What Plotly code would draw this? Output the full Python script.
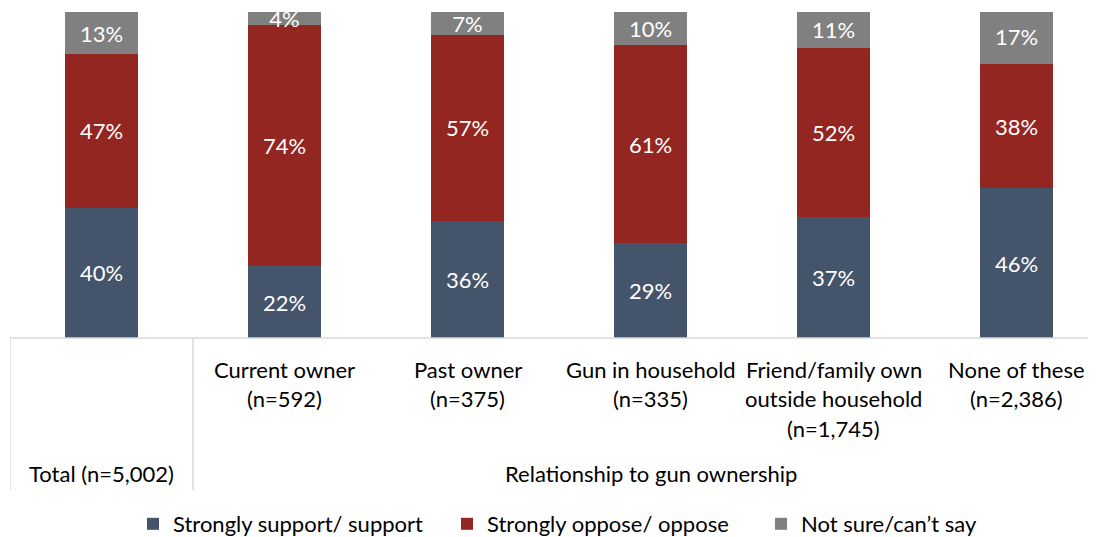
import plotly.graph_objects as go

categories = ["Total (n=5,002)", "Current owner<br>(n=592)", "Past owner<br>(n=375)",
              "Gun in household<br>(n=335)", "Friend/family own<br>outside household<br>(n=1,745)",
              "None of these<br>(n=2,386)"]
group_label = "Relationship to gun ownership"
support = [40, 22, 36, 29, 37, 46]
oppose = [47, 74, 57, 61, 52, 38]
not_sure = [13, 4, 7, 10, 11, 17]

series = [
    ("Strongly support/ support", support, "#44546A"),
    ("Strongly oppose/ oppose", oppose, "#942621"),
    ("Not sure/can’t say", not_sure, "#808080"),
]

FONT = "Lato"
FS = 22
OFF = 8  # page body margin
VW = 1096
W, H = VW - OFF, 560
top_px, bottom_px = 12, 338          # screen coords
ph = bottom_px - top_px

def py(pix):
    return (bottom_px - pix) / ph

xs = list(range(len(categories)))
fig = go.Figure()
for name, vals, col in series:
    fig.add_trace(go.Bar(
        x=xs, y=vals, name=name, marker=dict(color=col, line=dict(width=0)),
        width=0.395, text=[f"{v}%" for v in vals], textposition="inside",
        insidetextanchor="middle", constraintext="none",
        textfont=dict(color="white", size=FS, family=FONT),
        cliponaxis=True,
    ))

annotations = []
for i, lab in enumerate(categories):
    if i == 0:
        annotations.append(dict(x=i, y=py(473), xref="x", yref="paper", text=lab,
                                showarrow=False, yanchor="middle",
                                font=dict(size=FS, family=FONT, color="#000")))
        continue
    for j, line in enumerate(lab.split("<br>")):
        annotations.append(dict(x=i, y=py(369 + 29.5 * j), xref="x", yref="paper", text=line,
                                showarrow=False, yanchor="middle",
                                font=dict(size=FS, family=FONT, color="#000")))
annotations.append(dict(x=3, y=py(473), xref="x", yref="paper", text=group_label,
                        showarrow=False, yanchor="middle",
                        font=dict(size=FS, family=FONT, color="#000")))

shapes = [
    dict(type="line", xref="paper", yref="paper", x0=0, x1=1, y0=0, y1=0,
         line=dict(color="#D9D9D9", width=1.5)),
    dict(type="line", xref="x", yref="paper", x0=-0.5, x1=-0.5, y0=0, y1=py(490),
         line=dict(color="#D9D9D9", width=1.5)),
    dict(type="line", xref="x", yref="paper", x0=0.5, x1=0.5, y0=0, y1=py(490),
         line=dict(color="#D9D9D9", width=1.5)),
]

unit = 183
plot_w = VW - 10
x_right = -0.5 + plot_w / unit

fig.update_layout(
    barmode="stack", width=W, height=H,
    margin=dict(l=10 - OFF, r=0, t=top_px - OFF, b=H - (bottom_px - OFF), pad=0),
    plot_bgcolor="white", paper_bgcolor="white",
    xaxis=dict(range=[-0.5, x_right], showticklabels=False, showgrid=False,
               zeroline=False, showline=False),
    yaxis=dict(range=[0, 100], showticklabels=False, showgrid=False,
               zeroline=False, showline=False),
    showlegend=True,
    legend=dict(orientation="h", x=(133 - 10) / plot_w, xanchor="left",
                y=py(524), yanchor="middle",
                font=dict(size=FS, family=FONT, color="#000"), itemwidth=30,
                entrywidth=269, entrywidthmode="pixels",
                traceorder="normal", tracegroupgap=0),
    annotations=annotations, shapes=shapes,
    font=dict(family=FONT),
)
fig.write_html("out.html")
